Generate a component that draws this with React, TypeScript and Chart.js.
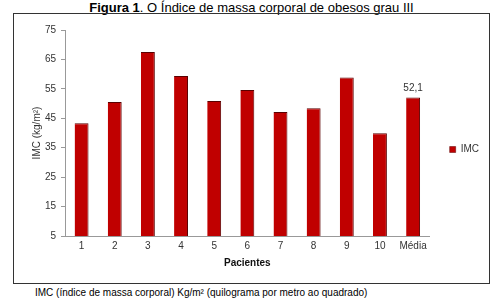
import React, { useEffect, useRef } from "react";
import { Chart, registerables } from "chart.js";

Chart.register(...registerables);

const categories: string[] = ["1", "2", "3", "4", "5", "6", "7", "8", "9", "10", "Média"];
const imcValues: number[] = [43.3, 50.5, 67.5, 59.4, 50.9, 54.6, 47.1, 48.4, 58.9, 39.9, 52.1];
const labelledIndex: number[] = [10];
const yMin = 5;
const yMax = 75;
const yStep = 10;
const seriesName = "IMC";
const yTitle = "IMC (kg/m²)";
const xTitle = "Pacientes";

const FONT = "'Liberation Sans', Arial, sans-serif";

const valueLabelPlugin = {
  id: "valueLabel",
  afterDatasetsDraw(chart: any) {
    const ctx = chart.ctx;
    const meta = chart.getDatasetMeta(0);
    ctx.save();
    ctx.font = `10px ${FONT}`;
    ctx.fillStyle = "#333";
    ctx.textAlign = "center";
    ctx.textBaseline = "bottom";
    labelledIndex.forEach((i) => {
      const el = meta.data[i];
      const v = imcValues[i];
      ctx.fillText(v.toFixed(1).replace(".", ","), el.x, el.y - 4);
    });
    ctx.restore();
  },
};

export default function App() {
  const ref = useRef<HTMLCanvasElement>(null);
  useEffect(() => {
    if (!ref.current) return;
    const chart = new Chart(ref.current, {
      type: "bar",
      data: {
        labels: categories,
        datasets: [
          {
            label: seriesName,
            data: imcValues,
            backgroundColor: "#C00000",
            borderColor: "#5a0000",
            borderWidth: { top: 1, right: 1, left: 0, bottom: 0 },
            borderSkipped: false,
            categoryPercentage: 0.84,
            barPercentage: 0.5,
          },
        ],
      },
      options: {
        responsive: false,
        animation: false,
        maintainAspectRatio: false,
        layout: { padding: { top: 16, bottom: 14, left: 0, right: 0 } },
        plugins: {
          legend: {
            position: "right",
            labels: {
              boxWidth: 6,
              boxHeight: 6,
              color: "#333",
              font: { family: FONT, size: 10 },
            },
          },
          tooltip: { enabled: false },
        },
        scales: {
          x: {
            grid: { display: false, drawTicks: false, tickLength: 0 },
            border: { color: "#999" },
            ticks: {
              color: "#333",
              font: { family: FONT, size: 10 },
              padding: 4,
              maxRotation: 0,
              minRotation: 0,
              autoSkip: false,
            },
            title: {
              display: true,
              text: xTitle,
              color: "#111",
              font: { family: FONT, size: 10, weight: "bold" },
              padding: { top: 1, bottom: 0 },
            },
          },
          y: {
            min: yMin,
            max: yMax,
            grid: { drawOnChartArea: false, drawTicks: true, tickLength: 4, color: "#999" },
            border: { color: "#999" },
            ticks: { stepSize: yStep, color: "#333", font: { family: FONT, size: 10 }, padding: 5 },
            title: {
              display: true,
              text: yTitle,
              color: "#333",
              font: { family: FONT, size: 10 },
              padding: { top: 17, bottom: 0 },
            },
            afterFit(scale: any) {
              scale.width = 51;
            },
          },
          gap: {
            type: "linear",
            position: "right",
            display: true,
            grid: { display: false },
            border: { display: false },
            ticks: { display: false },
            afterFit(scale: any) {
              scale.width = 10;
            },
          },
        },
      },
      plugins: [valueLabelPlugin],
    });
    return () => chart.destroy();
  }, []);

  return (
    <div style={{ position: "absolute", left: 0, top: 0, width: 503, height: 301, fontFamily: FONT, background: "#fff" }}>
      <div style={{ position: "absolute", left: 0, top: 0, width: 503, textAlign: "center", fontSize: 13, lineHeight: "15px", color: "#000", whiteSpace: "nowrap" }}>
        <b>Figura 1</b>. O Índice de massa corporal de obesos grau III
      </div>
      <div style={{ position: "absolute", left: 13, top: 13, width: 477, height: 271, border: "1px solid #333", boxSizing: "border-box" }}>
        <canvas ref={ref} width={475} height={269} style={{ position: "absolute", left: 0, top: 0, width: 475, height: 269 }} />
      </div>
      <div style={{ position: "absolute", left: 35, top: 287, fontSize: 10, lineHeight: "12px", color: "#000", whiteSpace: "nowrap" }}>
        IMC (índice de massa corporal) Kg/m² (quilograma por metro ao quadrado)
      </div>
    </div>
  );
}
